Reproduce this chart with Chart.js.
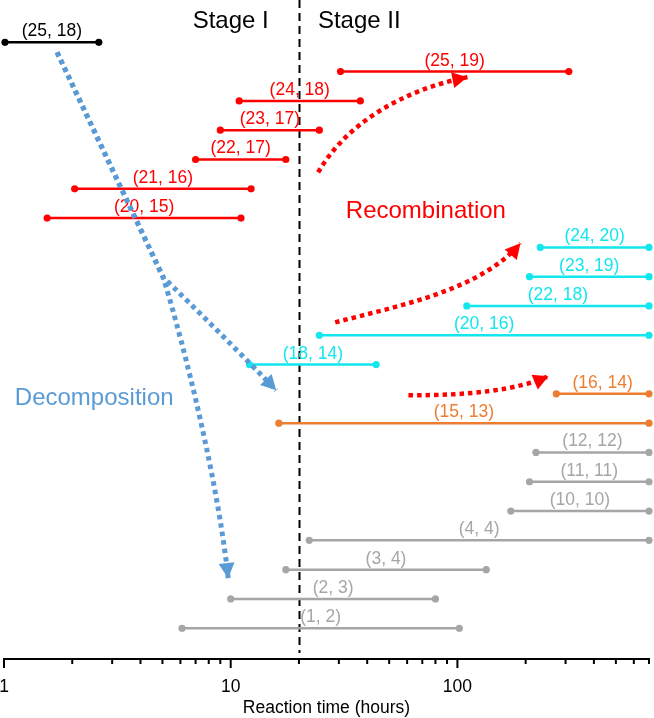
<!DOCTYPE html>
<html>
<head>
<meta charset="utf-8">
<script src="https://cdn.jsdelivr.net/npm/chart.js@4"></script>
<style>
  body { margin: 0; background: #fff; }
  canvas { display: block; }
</style>
</head>
<body>
<canvas id="grafico" width="654" height="718"></canvas>
<script>
// Segmentos: etiqueta, inicio y fin (horas), fila y grupo de color
const segLabels = ['(25, 18)', '(25, 19)', '(24, 18)', '(23, 17)', '(22, 17)', '(21, 16)', '(20, 15)',
    '(24, 20)', '(23, 19)', '(22, 18)', '(20, 16)', '(18, 14)',
    '(16, 14)', '(15, 13)',
    '(12, 12)', '(11, 11)', '(10, 10)', '(4, 4)', '(3, 4)', '(2, 3)', '(1, 2)'];
const startTimes = [1.01, 30.5, 10.9, 9.0, 7.0, 2.05, 1.55,
    232, 208, 110, 24.6, 12.1,
    273, 16.3,
    222, 208, 172, 22.2, 17.5, 10, 6.1];
const endTimes = [2.62, 310, 37.3, 24.6, 17.5, 12.3, 11.1,
    700, 700, 700, 700, 43.8,
    700, 700,
    700, 700, 700, 700, 134, 80, 102];
const rows = [20, 19, 18, 17, 16, 15, 14, 13, 12, 11, 10, 9, 8, 7, 6, 5, 4, 3, 2, 1, 0];
const groups = ['black', 'red', 'red', 'red', 'red', 'red', 'red',
    'cyan', 'cyan', 'cyan', 'cyan', 'cyan',
    'orange', 'orange',
    'gray', 'gray', 'gray', 'gray', 'gray', 'gray', 'gray'];

// Eje x
const tickValues = [1, 10, 100];
const minorTicks = [2, 3, 4, 5, 6, 7, 8, 9, 20, 30, 40, 50, 60, 70, 80, 90, 200, 300, 400, 500, 600, 700];
const stageBoundary = 20;

// Textos de anotación (horas, fila)
const noteTexts = ['Stage I', 'Stage II', 'Recombination', 'Decomposition'];
const noteX = [10, 36.9, 72.6, 2.5];
const noteY = [20.5, 20.5, 14.0, 7.61];
const noteColors = ['black', 'black', 'red', 'blue'];

// Flechas punteadas: inicio, fin del tramo recto, dos puntos de control, punta (horas / fila)
const arrowColors = ['blue', 'blue', 'red', 'red', 'red'];
const arrowX = [
    [1.714, 5.035, 6.626, 11.83, 15.88],
    [1.714, 5.035, 5.69, 8.54, 9.75],
    [24.3, 24.3, 32.0, 56.0, 110.7],
    [28.9, 28.9, 56.0, 126.3, 189.7],
    [60.8, 60.8, 114.1, 180.3, 252.2]];
const arrowY = [
    [19.66, 11.98, 11.09, 9.15, 8.12],
    [19.66, 11.98, 10.68, 5.73, 1.71],
    [15.56, 15.56, 17.17, 18.36, 18.81],
    [10.44, 10.44, 11.02, 11.54, 13.14],
    [7.95, 7.95, 7.95, 8.12, 8.6]];

const colores = {
    black: '#000000',
    red: '#FF0000',
    cyan: '#12E6EE',
    orange: '#ED7D31',
    gray: '#A6A6A6',
    blue: '#5B9BD5'
};
const fuente = '"Liberation Sans", Arial, sans-serif';

const datasets = segLabels.map((lab, i) => ({
    label: lab,
    data: [{ x: startTimes[i], y: rows[i] }, { x: endTimes[i], y: rows[i] }],
    borderColor: colores[groups[i]],
    backgroundColor: colores[groups[i]],
    pointBackgroundColor: colores[groups[i]],
    pointBorderWidth: 0,
    pointRadius: 3.6,
    borderWidth: 2.5,
    clip: false
}));

const decoraciones = {
    id: 'decoraciones',
    beforeDatasetsDraw(chart) {
        const ctx = chart.ctx;
        const xs = chart.scales.x;
        // Línea vertical discontinua
        const px = Math.round(xs.getPixelForValue(stageBoundary)) + 0.5;
        ctx.save();
        ctx.strokeStyle = '#000';
        ctx.lineWidth = 2;
        ctx.setLineDash([8, 5]);
        ctx.beginPath();
        ctx.moveTo(px, 0);
        ctx.lineTo(px, 653);
        ctx.stroke();
        ctx.restore();
    },
    afterDatasetsDraw(chart) {
        const ctx = chart.ctx;
        const xs = chart.scales.x;
        const ys = chart.scales.y;

        // Etiquetas de los segmentos
        ctx.save();
        ctx.font = '17.5px ' + fuente;
        ctx.textAlign = 'center';
        ctx.textBaseline = 'alphabetic';
        segLabels.forEach((lab, i) => {
            const x1 = xs.getPixelForValue(startTimes[i]);
            const x2 = xs.getPixelForValue(endTimes[i]);
            const y = ys.getPixelForValue(rows[i]);
            ctx.fillStyle = colores[groups[i]];
            ctx.fillText(lab, (x1 + x2) / 2, y - 6);
        });
        ctx.restore();

        // Flechas
        arrowX.forEach((ax, k) => {
            const p = ax.map((v, j) => [xs.getPixelForValue(v), ys.getPixelForValue(arrowY[k][j])]);
            const col = colores[arrowColors[k]];
            ctx.save();
            ctx.strokeStyle = col;
            ctx.lineWidth = arrowColors[k] === 'blue' ? 5 : 4.5;
            ctx.setLineDash([4.5, 4]);
            ctx.beginPath();
            ctx.moveTo(p[0][0], p[0][1]);
            ctx.lineTo(p[1][0], p[1][1]);
            ctx.bezierCurveTo(p[2][0], p[2][1], p[3][0], p[3][1], p[4][0], p[4][1]);
            ctx.stroke();
            // punta
            const ang = Math.atan2(p[4][1] - p[3][1], p[4][0] - p[3][0]);
            const L = 15, W = 8;
            ctx.setLineDash([]);
            ctx.fillStyle = col;
            ctx.beginPath();
            ctx.moveTo(p[4][0], p[4][1]);
            ctx.lineTo(p[4][0] - L * Math.cos(ang) + W * Math.sin(ang), p[4][1] - L * Math.sin(ang) - W * Math.cos(ang));
            ctx.lineTo(p[4][0] - L * Math.cos(ang) - W * Math.sin(ang), p[4][1] - L * Math.sin(ang) + W * Math.cos(ang));
            ctx.closePath();
            ctx.fill();
            ctx.restore();
        });

        // Textos grandes
        ctx.save();
        ctx.font = '24px ' + fuente;
        ctx.textAlign = 'center';
        noteTexts.forEach((t, i) => {
            ctx.fillStyle = colores[noteColors[i]];
            ctx.fillText(t, xs.getPixelForValue(noteX[i]), ys.getPixelForValue(noteY[i]));
        });
        ctx.restore();

        // Eje x
        const yAxis = ys.getPixelForValue(ys.min);
        ctx.save();
        ctx.strokeStyle = '#000';
        ctx.lineWidth = 2;
        ctx.beginPath();
        ctx.moveTo(xs.getPixelForValue(1) - 1, yAxis);
        ctx.lineTo(xs.getPixelForValue(700) + 1, yAxis);
        ctx.stroke();
        tickValues.forEach(v => {
            const x = xs.getPixelForValue(v);
            ctx.beginPath();
            ctx.moveTo(x, yAxis);
            ctx.lineTo(x, yAxis + 9);
            ctx.stroke();
        });
        minorTicks.forEach(v => {
            const x = xs.getPixelForValue(v);
            ctx.beginPath();
            ctx.moveTo(x, yAxis);
            ctx.lineTo(x, yAxis + 5);
            ctx.stroke();
        });
        ctx.fillStyle = '#000';
        ctx.font = '17.5px ' + fuente;
        ctx.textAlign = 'center';
        ctx.textBaseline = 'middle';
        tickValues.forEach(v => {
            ctx.fillText(String(v), xs.getPixelForValue(v), yAxis + 28);
        });
        ctx.textBaseline = 'alphabetic';
        ctx.fillText('Reaction time (hours)', (xs.left + xs.right) / 2, 713);
        ctx.restore();
    }
};

const ctx = document.getElementById('grafico').getContext('2d');
window.chart = new Chart(ctx, {
    type: 'line',
    data: { datasets: datasets },
    options: {
        responsive: false,
        animation: false,
        layout: { padding: { left: 4, right: 5, top: 13, bottom: 59 } },
        scales: {
            x: { type: 'logarithmic', min: 1, max: 700, display: false },
            y: { type: 'linear', min: -1.05, max: 21, display: false }
        },
        plugins: {
            legend: { display: false },
            tooltip: { enabled: false }
        }
    },
    plugins: [decoraciones]
});
</script>
</body>
</html>
